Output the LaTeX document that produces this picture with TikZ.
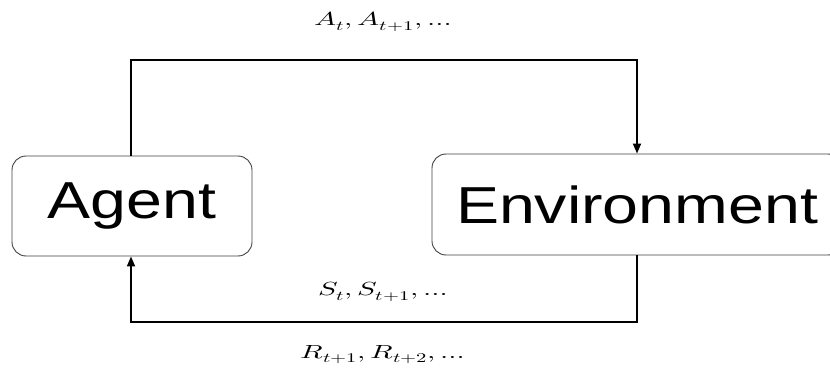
\documentclass[tikz,border=0pt]{standalone}
\usepackage{fontspec}
\usepackage{unicode-math}
\setmathfont{Latin Modern Math}
\usetikzlibrary{arrows.meta}
\newfontfamily\boxfont[FakeStretch=1.24]{Liberation Sans}
\begin{document}
\begin{tikzpicture}[x=1pt,y=-1pt,
  block/.style={draw=black!75, line width=0.9pt, rounded corners=14pt,
    inner sep=0pt, font=\boxfont\fontsize{52}{60}\selectfont},
  flow/.style={line width=1.8pt, black},
  tip/.style={-{Triangle[length=10pt,width=8pt]}},
  lbl/.style={anchor=base, inner sep=0pt, xscale=1.55, transform shape,
    font=\fontsize{19}{22}\selectfont}]
\useasboundingbox (0,0) rectangle (830,374);

% the two blocks
\node[block, minimum width=240pt, minimum height=100pt] (agent) at (132,206) {Agent};
\node[block, minimum width=410pt, minimum height=101pt] (env) at (637,204.5) {Environment};

% corners of the loop
\coordinate (tl) at (131,60);
\coordinate (tr) at (637,60);
\coordinate (br) at (637,322);
\coordinate (bl) at (131,322);

% actions: agent -> environment
\draw[flow, tip] (agent.north -| tl) -- (tl) -- (tr) -- (tr |- env.north);
% states and rewards: environment -> agent
\draw[flow, tip] (br |- env.south) -- (br) -- (bl) -- (bl |- agent.south);

% labels
\node[lbl] (lA) at (383,25.5) {$A_t, A_{t+1}, \ldots$};
\node[lbl] (lS) at (383,295.5) {$S_t, S_{t+1}, \ldots$};
\node[lbl] (lR) at (383,358) {$R_{t+1}, R_{t+2}, \ldots$};
\end{tikzpicture}
\end{document}
